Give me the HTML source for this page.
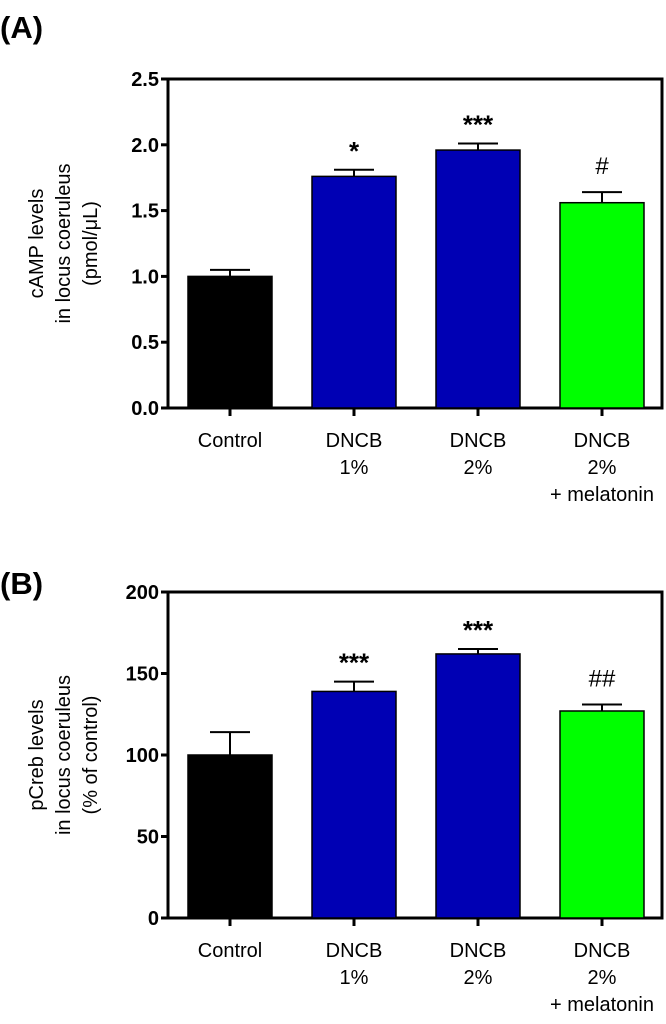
<!DOCTYPE html>
<html><head><meta charset="utf-8"><style>
body{margin:0;background:#fff;}
svg{display:block;font-family:"Liberation Sans",Arial,sans-serif;}
</style></head><body>
<svg id="chart" width="666" height="1024" viewBox="0 0 666 1024">
<text x="0" y="38" font-size="31" font-weight="bold">(A)</text>
<text x="0" y="594" font-size="31" font-weight="bold">(B)</text>
<g id="pa"></g>
<g id="pb"></g>
</svg>
<script>
const categories = [["Control"],["DNCB","1%"],["DNCB","2%"],["DNCB","2%","+ melatonin"]];
const colors = ["#000000","#0000b4","#0000b4","#00ff00"];
const camp = [1.0, 1.76, 1.96, 1.56];
const campErr = [0.05, 0.05, 0.05, 0.08];
const campSig = ["", "*", "***", "#"];
const campTicks = ["0.0","0.5","1.0","1.5","2.0","2.5"];
const pcreb = [100, 139, 162, 127];
const pcrebErr = [14, 6, 3, 4];
const pcrebSig = ["", "***", "***", "##"];
const pcrebTicks = ["0","50","100","150","200"];
const NS="http://www.w3.org/2000/svg";
function mk(p,t,a){const e=document.createElementNS(NS,t);for(const k in a)e.setAttribute(k,a[k]);p.appendChild(e);return e;}
function panel(g,vals,errs,sig,ticks,yTop,yBot,yLabels){
  const max=parseFloat(ticks[ticks.length-1]);
  const y=v=>yBot-(v/max)*(yBot-yTop);
  const xL=168,xR=662,bw=84,x0=230,step=124;
  const cx=i=>x0+i*step;
  let fr=mk(g,'rect',{x:xL,y:yTop,width:xR-xL,height:yBot-yTop,fill:'none',stroke:'#000','stroke-width':3});
  
  
  ticks.forEach(t=>{
    const yy=y(parseFloat(t));
    let l=mk(g,'line',{x1:xL-7,x2:xL,y1:yy,y2:yy,stroke:'#000','stroke-width':3});
    
    
    let tx=mk(g,'text',{x:xL-9,y:yy+7,'font-size':20,'font-weight':'bold','text-anchor':'end'});
    tx.textContent=t;
    
    
  });
  vals.forEach((v,i)=>{
    const top=y(v),et=y(v+errs[i]);
    let el=mk(g,'line',{x1:cx(i),x2:cx(i),y1:top,y2:et,stroke:'#000','stroke-width':2});
    
    
    let ec=mk(g,'line',{x1:cx(i)-20,x2:cx(i)+20,y1:et,y2:et,stroke:'#000','stroke-width':2});
    
    
    let r=mk(g,'rect',{x:cx(i)-bw/2,y:top,width:bw,height:yBot-top,fill:colors[i],stroke:'#000','stroke-width':1.5});
    
    
    if(sig[i]){
      let s=mk(g,'text',{x:cx(i),y:et-(sig[i][0]=='#'?18:10),'font-size':sig[i][0]=='#'?24:26,'font-weight':sig[i][0]=='#'?'normal':'bold','text-anchor':'middle'});
      s.textContent=sig[i];
      
      
    }
    let tk=mk(g,'line',{x1:cx(i),x2:cx(i),y1:yBot,y2:yBot+8,stroke:'#000','stroke-width':3});
    
    
    categories[i].forEach((ln,j)=>{
      let c=mk(g,'text',{x:cx(i),y:yBot+39+j*27,'font-size':20,'text-anchor':'middle'});
      c.textContent=ln;
      
      
    });
  });
  const ym=(yTop+yBot)/2;
  yLabels.forEach((ln,j)=>{
    const xx=43+j*27;
    let t=mk(g,'text',{x:xx,y:ym,'font-size':20,'text-anchor':'middle',transform:`rotate(-90 ${xx} ${ym})`});
    t.textContent=ln;
    
    
  });
}
panel(document.getElementById('pa'),camp,campErr,campSig,campTicks,79,408,["cAMP levels","in locus coeruleus","(pmol/\u03bcL)"]);
panel(document.getElementById('pb'),pcreb,pcrebErr,pcrebSig,pcrebTicks,592,918,["pCreb levels","in locus coeruleus","(% of control)"]);
</script>
</body></html>
